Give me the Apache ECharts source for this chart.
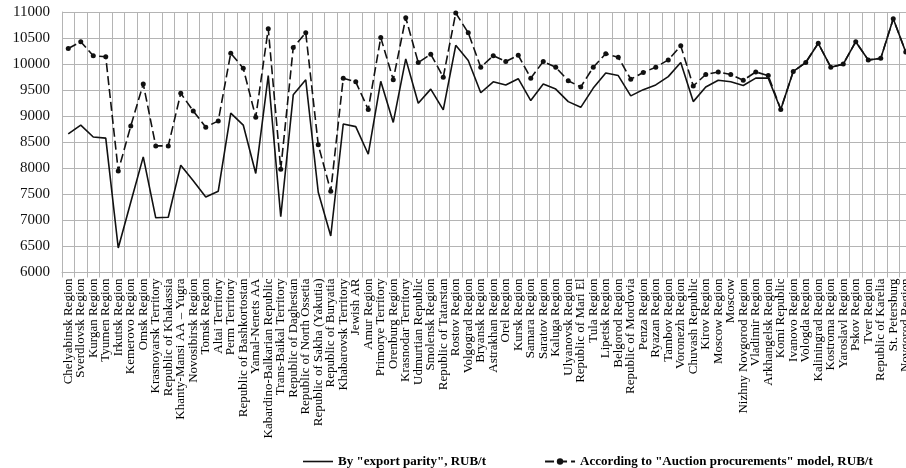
<!DOCTYPE html>
<html>
<head>
<meta charset="utf-8">
<script src="https://cdn.jsdelivr.net/npm/echarts@6/dist/echarts.min.js"></script>
<style>
html,body{margin:0;padding:0;background:#fff;overflow:hidden;width:906px;height:468px;}
#chart{width:914px;height:468px;}
</style>
</head>
<body>
<div id="chart"></div>
<script>
const categories = [
"Chelyabinsk Region","Sverdlovsk Region","Kurgan Region","Tyumen Region","Irkutsk Region",
"Kemerovo Region","Omsk Region","Krasnoyarsk Territory","Republic of Khakassia","Khanty-Mansi AA – Yugra",
"Novosibirsk Region","Tomsk Region","Altai Territory","Perm Territory","Republic of Bashkortostan",
"Yamal-Nenets AA","Kabardino-Balkarian Republic","Trans-Baikal Territory","Republic of Daghestan","Republic of North Ossetia",
"Republic of Sakha (Yakutia)","Republic of Buryatia","Khabarovsk Territory","Jewish AR","Amur Region",
"Primorye Territory","Orenburg Region","Krasnodar Territory","Udmurtian Republic","Smolensk Region",
"Republic of Tatarstan","Rostov Region","Volgograd Region","Bryansk Region","Astrakhan Region",
"Orel Region","Kursk Region","Samara Region","Saratov Region","Kaluga Region",
"Ulyanovsk Region","Republic of Mari El","Tula Region","Lipetsk Region","Belgorod Region",
"Republic of Mordovia","Penza Region","Ryazan Region","Tambov Region","Voronezh Region",
"Chuvash Republic","Kirov Region","Moscow Region","Moscow","Nizhny Novgorod Region",
"Vladimir Region","Arkhangelsk Region","Komi Republic","Ivanovo Region","Vologda Region",
"Kaliningrad Region","Kostroma Region","Yaroslavl Region","Pskov Region","Tver Region",
"Republic of Karelia","St. Petersburg","Novgorod Region"
];
const exportParity = [
8660,8830,8600,8580,6470,7350,8220,7050,7060,8060,
7760,7450,7560,9060,8830,7900,9780,7070,9410,9700,
7540,6700,8850,8800,8270,9670,8880,10100,9250,9520,
9120,10360,10070,9450,9660,9600,9720,9300,9620,9520,
9280,9170,9540,9830,9780,9390,9510,9600,9760,10030,
9280,9560,9690,9660,9590,9730,9730,9130,9860,10030,
10400,9940,10000,10430,10080,10110,10870,10230
];
const auctionModel = [
10300,10430,10160,10140,7950,8810,9620,8430,8430,9440,
9100,8790,8910,10210,9920,8980,10680,7980,10320,10600,
8450,7560,9730,9660,9130,10510,9700,10890,10030,10190,
9750,10980,10600,9940,10160,10050,10170,9730,10050,9940,
9680,9560,9940,10200,10130,9710,9840,9940,10080,10350,
9580,9800,9850,9800,9690,9850,9780,9130,9860,10030,
10400,9940,10000,10430,10080,10110,10870,10230
];
const seriesNames = ['By "export parity", RUB/t', 'According to "Auction procurements" model, RUB/t'];
const yMin = 6000, yMax = 11000, yStep = 500;

const serif = "'Liberation Serif','Times New Roman',serif";
const gridColor = '#b4b4b4';
const chart = echarts.init(document.getElementById('chart'), null, {renderer:'canvas'});
chart.setOption({
  animation: false,
  backgroundColor: '#fff',
  grid: {left: 62, top: 12, width: 850, height: 260.5, containLabel: false},
  legend: {
    left: 298, top: 450, itemGap: 58, itemWidth: 30, itemHeight: 8,
    textStyle: {fontFamily: serif, fontWeight: 'bold', fontSize: 13, color: '#000'},
    data: [
      {name: seriesNames[0], icon: 'path://M0,0h30v1.6h-30z', itemStyle: {color: '#111'}},
      {name: seriesNames[1]}
    ]
  },
  xAxis: {
    type: 'category', data: categories, boundaryGap: true,
    axisLine: {show: true, lineStyle: {color: gridColor}},
    axisTick: {show: true, alignWithLabel: false, length: 5, lineStyle: {color: gridColor}, interval: 0},
    splitLine: {show: true, interval: 0, lineStyle: {color: gridColor, width: 1}},
    axisLabel: {interval: 0, rotate: 90, margin: 6, fontFamily: serif, fontSize: 13, color: '#000'}
  },
  yAxis: {
    type: 'value', min: yMin, max: yMax, interval: yStep,
    axisLine: {show: true, lineStyle: {color: gridColor}},
    axisTick: {show: false},
    splitLine: {show: true, lineStyle: {color: gridColor, width: 1}},
    axisLabel: {margin: 12, fontFamily: serif, fontSize: 15, color: '#111', formatter: v => String(v)}
  },
  series: [
    {name: seriesNames[0], type: 'line', data: exportParity, symbol: 'none',
     lineStyle: {color: '#111', width: 1.6}, itemStyle: {color: '#111'}, z: 2},
    {name: seriesNames[1], type: 'line', data: auctionModel, symbol: 'circle', symbolSize: 5,
     lineStyle: {color: '#111', width: 1.6, type: [9, 4]}, itemStyle: {color: '#111'}, z: 3}
  ]
});
</script>
</body>
</html>
